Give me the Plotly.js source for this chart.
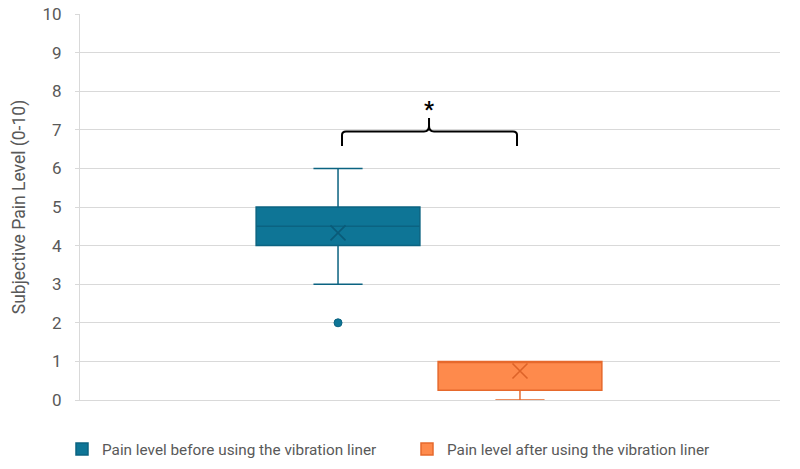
<!DOCTYPE html>
<html>
<head>
<meta charset="utf-8">
<script src="https://cdn.plot.ly/plotly-3.0.1.min.js"></script>
<style>
  html, body { margin: 0; padding: 0; background: #ffffff; }
  #chart { width: 800px; height: 469px; }
</style>
</head>
<body>
<div id="chart"></div>
<script>
// Series names (legend text)
const seriesNames = [
  'Pain level before using the vibration liner',
  'Pain level after using the vibration liner'
];
// Hidden category slots, one per series
const categories = ['Before', 'After'];

// Box statistics per series: [before, after]
const lowerWhisker = [3, 0];
const q1Values = [4, 0.25];
const medianValues = [4.5, 1];
const q3Values = [5, 1];
const upperWhisker = [6, 1];
const meanValues = [4.33, 0.75];

// Outlying observations of the "before" series
const outlierValues = [2];

// y axis ticks
const yTicks = [0, 1, 2, 3, 4, 5, 6, 7, 8, 9, 10];

const fillColors = ['#0E7596', '#FE8A4C'];
const lineColors = ['#0B6381', '#E6692C'];
const meanColors = ['#0A5A78', '#DD6328'];
const FONT = 'Roboto, "Liberation Sans", sans-serif';

const traces = [];
categories.forEach((cat, i) => {
  traces.push({
    type: 'box',
    name: seriesNames[i],
    x: [cat],
    q1: [q1Values[i]],
    median: [medianValues[i]],
    q3: [q3Values[i]],
    lowerfence: [lowerWhisker[i]],
    upperfence: [upperWhisker[i]],
    boxpoints: false,
    boxmean: false,
    width: 0.9,
    whiskerwidth: 0.3,
    fillcolor: fillColors[i],
    line: { color: lineColors[i], width: 1.5 },
    hoverinfo: 'skip'
  });
  // mean marker drawn as an "x"
  traces.push({
    type: 'scatter',
    mode: 'markers',
    x: [cat],
    y: [meanValues[i]],
    showlegend: false,
    hoverinfo: 'skip',
    marker: { symbol: 'x-thin-open', size: 15, line: { color: meanColors[i], width: 1.6 }, color: meanColors[i] }
  });
});

// outlier points for the "before" series
traces.push({
  type: 'scatter',
  mode: 'markers',
  x: outlierValues.map(() => categories[0]),
  y: outlierValues,
  showlegend: false,
  hoverinfo: 'skip',
  marker: { symbol: 'circle', size: 8, color: fillColors[0], line: { color: lineColors[0], width: 1 } }
});

// plot-area geometry helpers for the significance bracket (paper coords)
const M = { l: 80, r: 20, t: 14, b: 69 };
const W = 800, H = 469;
const PW = W - M.l - M.r, PH = H - M.t - M.b;
const px = v => ((v - M.l) / PW).toFixed(4);
const py = v => ((H - M.b - v) / PH).toFixed(4);

const bracketPath =
  'M ' + px(342) + ' ' + py(146) +
  ' L ' + px(342) + ' ' + py(135) +
  ' Q ' + px(342) + ' ' + py(131.5) + ' ' + px(346) + ' ' + py(131.5) +
  ' L ' + px(424) + ' ' + py(131.5) +
  ' Q ' + px(429) + ' ' + py(131.5) + ' ' + px(429) + ' ' + py(126) +
  ' L ' + px(429) + ' ' + py(118) +
  ' L ' + px(429) + ' ' + py(126) +
  ' Q ' + px(429) + ' ' + py(131.5) + ' ' + px(434) + ' ' + py(131.5) +
  ' L ' + px(513) + ' ' + py(131.5) +
  ' Q ' + px(517) + ' ' + py(131.5) + ' ' + px(517) + ' ' + py(135) +
  ' L ' + px(517) + ' ' + py(146);

const layout = {
  width: W,
  height: H,
  margin: M,
  paper_bgcolor: '#ffffff',
  plot_bgcolor: '#ffffff',
  font: { family: FONT, color: '#595959' },
  boxgap: 0,
  xaxis: {
    type: 'category',
    range: [-1.418, 2.429],
    showticklabels: false,
    showgrid: false,
    zeroline: false,
    showline: true,
    linecolor: '#d9d9d9',
    linewidth: 1,
    ticks: '',
    fixedrange: true
  },
  yaxis: {
    range: [0, 10],
    tickvals: yTicks,
    ticktext: yTicks.map(String),
    showgrid: true,
    gridcolor: '#d9d9d9',
    gridwidth: 1,
    zeroline: false,
    showline: true,
    linecolor: '#d9d9d9',
    linewidth: 1,
    ticks: 'outside',
    ticklen: 4,
    tickcolor: '#d9d9d9',
    ticklabelstandoff: 10,
    tickfont: { size: 17, color: '#595959', family: FONT },
    title: {
      text: 'Subjective Pain Level (0-10)',
      font: { size: 17.5, color: '#595959', family: FONT },
      standoff: 12
    },
    fixedrange: true
  },
  showlegend: true,
  legend: {
    orientation: 'h',
    xref: 'container',
    yref: 'container',
    x: 407 / W,
    xanchor: 'center',
    y: 1 - 449 / H,
    yanchor: 'middle',
    font: { size: 15.3, color: '#595959', family: FONT },
    itemwidth: 30,
    entrywidth: 300,
    traceorder: 'normal'
  },
  shapes: [{
    type: 'path',
    xref: 'paper',
    yref: 'paper',
    path: bracketPath,
    line: { color: '#000000', width: 2 }
  }],
  annotations: [{
    xref: 'paper',
    yref: 'paper',
    x: Number(px(429)),
    y: Number(py(95)),
    text: '<b>*</b>',
    showarrow: false,
    font: { size: 22, color: '#000000', family: FONT }
  }]
};

Plotly.newPlot('chart', traces, layout, { displayModeBar: false, staticPlot: true });
</script>
</body>
</html>
